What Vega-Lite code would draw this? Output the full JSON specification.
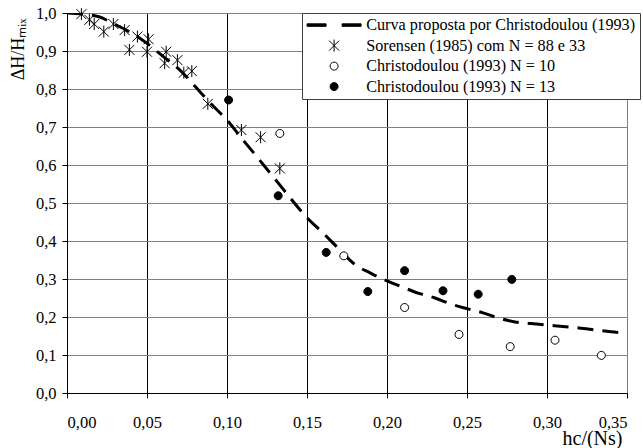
{
  "$schema": "https://vega.github.io/schema/vega-lite/v6.json",
  "width": 560,
  "height": 380,
  "autosize": {"type": "none"},
  "padding": {"left": 67, "top": 13, "right": 16, "bottom": 55},
  "background": "white",
  "config": {
    "view": {"stroke": "#808080", "strokeWidth": 1},
    "axis": {
      "labelFont": "Liberation Serif",
      "labelFontSize": 16.5,
      "labelColor": "black",
      "titleFont": "Liberation Serif",
      "titleFontWeight": "normal",
      "titleColor": "black",
      "domainColor": "black",
      "tickColor": "black",
      "tickSize": 5,
      "gridWidth": 1,
      "labelOverlap": false
    }
  },
  "datasets": {
    "curva": [
      {"x": 0.000, "y": 1.000}, {"x": 0.010, "y": 0.997}, {"x": 0.020, "y": 0.990},
      {"x": 0.030, "y": 0.970}, {"x": 0.040, "y": 0.948}, {"x": 0.050, "y": 0.920},
      {"x": 0.060, "y": 0.886}, {"x": 0.070, "y": 0.852}, {"x": 0.080, "y": 0.807},
      {"x": 0.090, "y": 0.761}, {"x": 0.100, "y": 0.718}, {"x": 0.110, "y": 0.666},
      {"x": 0.120, "y": 0.615}, {"x": 0.130, "y": 0.563}, {"x": 0.140, "y": 0.511},
      {"x": 0.150, "y": 0.461}, {"x": 0.160, "y": 0.421}, {"x": 0.170, "y": 0.379},
      {"x": 0.180, "y": 0.338}, {"x": 0.190, "y": 0.315}, {"x": 0.200, "y": 0.295},
      {"x": 0.210, "y": 0.278}, {"x": 0.220, "y": 0.262}, {"x": 0.230, "y": 0.250},
      {"x": 0.240, "y": 0.234}, {"x": 0.250, "y": 0.222}, {"x": 0.260, "y": 0.211},
      {"x": 0.270, "y": 0.197}, {"x": 0.280, "y": 0.187}, {"x": 0.290, "y": 0.183},
      {"x": 0.300, "y": 0.179}, {"x": 0.310, "y": 0.175}, {"x": 0.320, "y": 0.171},
      {"x": 0.330, "y": 0.166}, {"x": 0.340, "y": 0.161}, {"x": 0.350, "y": 0.158}
    ],
    "pontos": [
      {"serie": "Sorensen (1985) com N = 88 e 33", "x": 0.009, "y": 0.997},
      {"serie": "Sorensen (1985) com N = 88 e 33", "x": 0.014, "y": 0.982},
      {"serie": "Sorensen (1985) com N = 88 e 33", "x": 0.017, "y": 0.971},
      {"serie": "Sorensen (1985) com N = 88 e 33", "x": 0.023, "y": 0.951},
      {"serie": "Sorensen (1985) com N = 88 e 33", "x": 0.029, "y": 0.971},
      {"serie": "Sorensen (1985) com N = 88 e 33", "x": 0.036, "y": 0.955},
      {"serie": "Sorensen (1985) com N = 88 e 33", "x": 0.044, "y": 0.938},
      {"serie": "Sorensen (1985) com N = 88 e 33", "x": 0.051, "y": 0.931},
      {"serie": "Sorensen (1985) com N = 88 e 33", "x": 0.039, "y": 0.903},
      {"serie": "Sorensen (1985) com N = 88 e 33", "x": 0.050, "y": 0.898},
      {"serie": "Sorensen (1985) com N = 88 e 33", "x": 0.062, "y": 0.898},
      {"serie": "Sorensen (1985) com N = 88 e 33", "x": 0.061, "y": 0.868},
      {"serie": "Sorensen (1985) com N = 88 e 33", "x": 0.069, "y": 0.876},
      {"serie": "Sorensen (1985) com N = 88 e 33", "x": 0.073, "y": 0.843},
      {"serie": "Sorensen (1985) com N = 88 e 33", "x": 0.078, "y": 0.847},
      {"serie": "Sorensen (1985) com N = 88 e 33", "x": 0.088, "y": 0.761},
      {"serie": "Sorensen (1985) com N = 88 e 33", "x": 0.109, "y": 0.692},
      {"serie": "Sorensen (1985) com N = 88 e 33", "x": 0.121, "y": 0.673},
      {"serie": "Sorensen (1985) com N = 88 e 33", "x": 0.133, "y": 0.591},
      {"serie": "Christodoulou (1993) N = 10", "x": 0.133, "y": 0.683},
      {"serie": "Christodoulou (1993) N = 10", "x": 0.173, "y": 0.361},
      {"serie": "Christodoulou (1993) N = 10", "x": 0.211, "y": 0.225},
      {"serie": "Christodoulou (1993) N = 10", "x": 0.245, "y": 0.154},
      {"serie": "Christodoulou (1993) N = 10", "x": 0.277, "y": 0.122},
      {"serie": "Christodoulou (1993) N = 10", "x": 0.305, "y": 0.139},
      {"serie": "Christodoulou (1993) N = 10", "x": 0.334, "y": 0.099},
      {"serie": "Christodoulou (1993) N = 13", "x": 0.101, "y": 0.771},
      {"serie": "Christodoulou (1993) N = 13", "x": 0.132, "y": 0.519},
      {"serie": "Christodoulou (1993) N = 13", "x": 0.162, "y": 0.370},
      {"serie": "Christodoulou (1993) N = 13", "x": 0.188, "y": 0.267},
      {"serie": "Christodoulou (1993) N = 13", "x": 0.211, "y": 0.322},
      {"serie": "Christodoulou (1993) N = 13", "x": 0.235, "y": 0.269},
      {"serie": "Christodoulou (1993) N = 13", "x": 0.257, "y": 0.260},
      {"serie": "Christodoulou (1993) N = 13", "x": 0.278, "y": 0.299}
    ]
  },
  "encoding": {
    "x": {
      "field": "x", "type": "quantitative",
      "scale": {"domain": [0, 0.35], "nice": false, "zero": false},
      "axis": {
        "values": [0, 0.05, 0.1, 0.15, 0.2, 0.25, 0.3, 0.35],
        "labelExpr": "replace(format(datum.value, '.2f'), '.', ',')",
        "labelFont": "Liberation Serif",
        "labelFontSize": 16.5,
        "labelPadding": 16,
        "grid": true,
        "gridColor": {"condition": {"test": "datum.value >= 0.349", "value": "#808080"}, "value": "black"},
        "title": "hc/(Ns)",
        "titleFont": "Liberation Serif",
        "titleFontSize": 20,
        "titleX": 555,
        "titleY": 51,
        "titleAlign": "right",
        "titleBaseline": "alphabetic"
      }
    },
    "y": {
      "field": "y", "type": "quantitative",
      "scale": {"domain": [0, 1], "nice": false, "zero": false},
      "axis": {
        "values": [0, 0.1, 0.2, 0.3, 0.4, 0.5, 0.6, 0.7, 0.8, 0.9, 1],
        "labelExpr": "replace(format(datum.value, '.1f'), '.', ',')",
        "labelFont": "Liberation Serif",
        "labelFontSize": 16.5,
        "labelPadding": 6,
        "labelOverlap": false,
        "grid": true,
        "gridColor": "#808080",
        "title": "ΔH/Hₘᵢₓ",
        "titleFont": "Liberation Serif",
        "titleFontSize": 18,
        "titleAngle": -90,
        "titleX": -44,
        "titleY": 5,
        "titleAlign": "right",
        "titleBaseline": "alphabetic"
      }
    }
  },
  "layer": [
    {
      "data": {"name": "curva"},
      "mark": {"type": "line", "color": "black", "strokeWidth": 3, "strokeDash": [16, 9], "interpolate": "monotone", "clip": true}
    },
    {
      "data": {"name": "pontos"},
      "mark": {"type": "point", "size": 100, "strokeWidth": 1, "opacity": 1},
      "encoding": {
        "shape": {
          "field": "serie", "type": "nominal",
          "scale": {
            "domain": ["Curva proposta por Christodoulou (1993)", "Sorensen (1985) com N = 88 e 33", "Christodoulou (1993) N = 10", "Christodoulou (1993) N = 13"],
            "range": ["M-5.4,-0.25H-1.6V0.25H-5.4ZM1.6,-0.25H5.4V0.25H1.6Z", "M-1,-1L1,1M-1,1L1,-1M0,-1.2L0,1.2", "M-0.8,0A0.8,0.8,0,1,1,0.8,0A0.8,0.8,0,1,1,-0.8,0Z", "M-0.8,0A0.8,0.8,0,1,1,0.8,0A0.8,0.8,0,1,1,-0.8,0Z"]
          },
          "legend": {
            "title": null, "orient": "none", "legendX": 235, "legendY": 0, "direction": "vertical",
            "padding": 4, "fillColor": "white", "strokeColor": "#404040",
            "labelFont": "Liberation Serif", "labelFontSize": 16.2, "labelColor": "black", "labelLimit": 400,
            "symbolSize": 100, "symbolStrokeWidth": 1,
            "symbolOffset": 20, "labelOffset": 24, "rowPadding": 3.5
          }
        },
        "fill": {
          "field": "serie", "type": "nominal",
          "scale": {
            "domain": ["Curva proposta por Christodoulou (1993)", "Sorensen (1985) com N = 88 e 33", "Christodoulou (1993) N = 10", "Christodoulou (1993) N = 13"],
            "range": ["black", "transparent", "white", "black"]
          },
          "legend": {
            "title": null, "orient": "none", "legendX": 235, "legendY": 0, "direction": "vertical",
            "padding": 4, "fillColor": "white", "strokeColor": "#404040",
            "labelFont": "Liberation Serif", "labelFontSize": 16.2, "labelColor": "black", "labelLimit": 400,
            "symbolSize": 100, "symbolStrokeWidth": 1,
            "symbolOffset": 20, "labelOffset": 24, "rowPadding": 3.5
          }
        },
        "stroke": {
          "field": "serie", "type": "nominal",
          "scale": {
            "domain": ["Curva proposta por Christodoulou (1993)", "Sorensen (1985) com N = 88 e 33", "Christodoulou (1993) N = 10", "Christodoulou (1993) N = 13"],
            "range": ["black", "black", "black", "black"]
          },
          "legend": {
            "title": null, "orient": "none", "legendX": 235, "legendY": 0, "direction": "vertical",
            "padding": 4, "fillColor": "white", "strokeColor": "#404040",
            "labelFont": "Liberation Serif", "labelFontSize": 16.2, "labelColor": "black", "labelLimit": 400,
            "symbolSize": 100, "symbolStrokeWidth": 1,
            "symbolOffset": 20, "labelOffset": 24, "rowPadding": 3.5
          }
        }
      }
    }
  ]
}
